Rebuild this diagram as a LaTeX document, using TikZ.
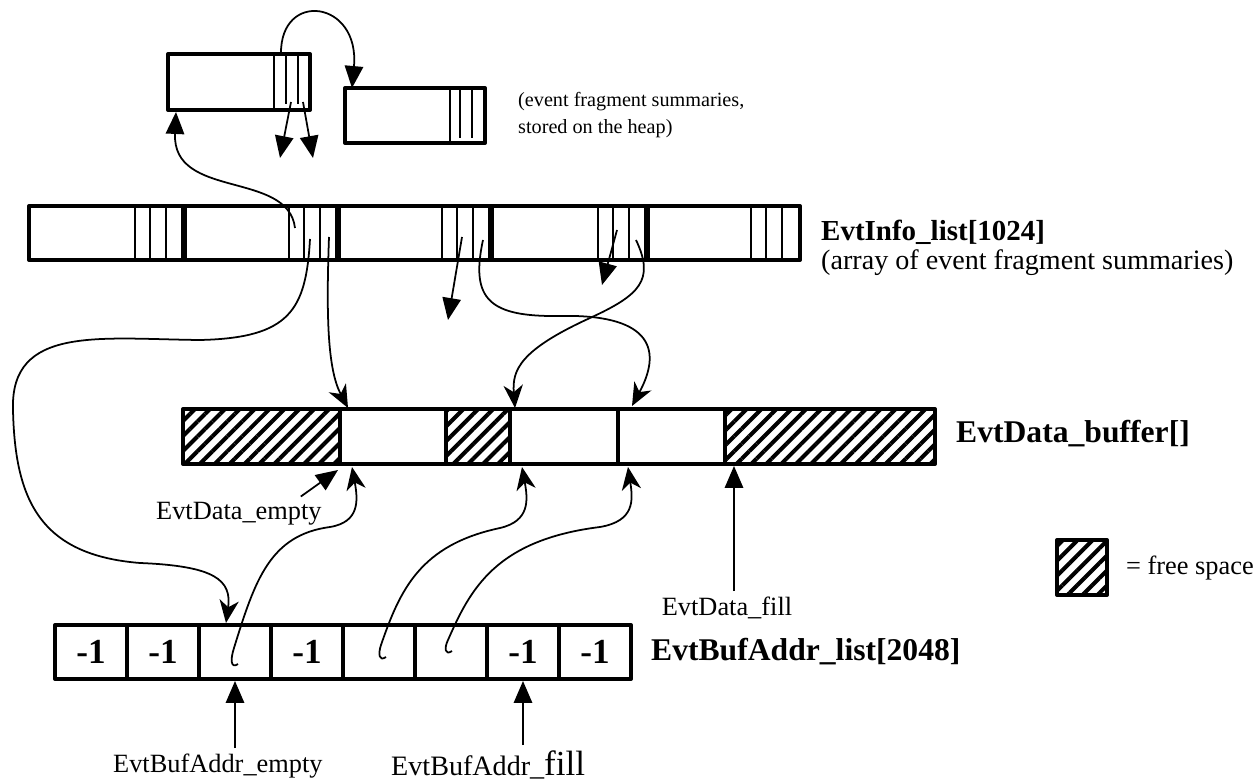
\documentclass[tikz,border=0pt]{standalone}
\usepackage{fontspec}
\setmainfont{Liberation Serif}
\usetikzlibrary{arrows.meta,patterns.meta}
\tikzset{
  box/.style={line width=2.3pt},
  slot/.style={line width=1pt},
  link/.style={line width=1pt,-{Stealth[length=13pt,width=11pt,inset=4pt]}},
  jump/.style={line width=1pt,-{Triangle[length=12.5pt,width=10.5pt]}},
  free/.style={box,pattern={Lines[angle=45,distance=6pt,line width=2.3pt]}},
  cell/.style={draw,line width=2.3pt,minimum width=1.44cm,minimum height=1.08cm,inner sep=0pt,font=\fontsize{20}{22}\selectfont\bfseries},
  title/.style={anchor=base west,font=\fontsize{18}{20}\selectfont\bfseries},
  note/.style={anchor=base west,font=\fontsize{15}{17}\selectfont}
}
\begin{document}
\begin{tikzpicture}[x=0.02cm,y=-0.02cm,line join=round]
\useasboundingbox (0,0) rectangle (1259,783);

\draw[box] (168,54) rectangle (310,110);
\draw[slot] (274,54) -- (274,110);
\foreach \x in {286,298} \draw[slot] (\x,54) -- (\x,104);
\draw[box] (345,88) rectangle (485,143);
\draw[slot] (450,88) -- (450,143);
\foreach \x in {460,472} \draw[slot] (\x,88) -- (\x,138);
\node[anchor=base west,font=\fontsize{11.5}{13}\selectfont] (heapa) at (512,107) {(event fragment summaries,};
\node[anchor=base west,font=\fontsize{11.5}{13}\selectfont] (heapb) at (512,134) {stored on the heap)};

\draw[box] (29,206) rectangle (800,260);
\foreach \x in {184,338,491,647} \draw[line width=3pt] (\x,206) -- (\x,260);
\foreach \x in {184,338,491,647,800}
  \foreach \d in {49,34,18} \draw[slot] ({\x-\d},206) -- ({\x-\d},260);
\node[title,font=\fontsize{16.5}{18}\selectfont\bfseries] (info) at (815,241) {EvtInfo\_list[1024]};
\node[note,font=\fontsize{16}{18}\selectfont] (infonote) at (815,270) {(array of event fragment summaries)};

\draw[free] (183,409) rectangle (340,464);
\draw[box] (340,409) rectangle (446,464);
\draw[free] (446,409) rectangle (510,464);
\draw[box] (510,409) rectangle (618,464);
\draw[box] (618,409) rectangle (725,464);
\draw[free] (725,409) rectangle (935,464);
\node[title] (data) at (950,443) {EvtData\_buffer[]};

\draw[free] (1057,540) rectangle (1107,595);
\node[note] (legend) at (1120,575) {= free space};

\foreach \i/\v in {1/{-1},2/{-1},3/{},4/{-1},5/{},6/{},7/{-1},8/{-1}}
  \node[cell] (c\i) at ({55+72*(\i-0.5)},652) {\v};
\node[title] (addr) at (645,661) {EvtBufAddr\_list[2048]};

\node[note] (dempty) at (150,520) {EvtData\_empty};
\node[note,anchor=base] (dfill) at (727,616) {EvtData\_fill};
\node[note] (bempty) at (107,773) {EvtBufAddr\_empty};
\node[anchor=base west] (bfill) at (385,776) {\fontsize{16}{18}\selectfont EvtBufAddr\_\fontsize{20}{22}\selectfont fill};

\coordinate (heapout) at (281,54);
\coordinate (heapin) at (352,88);
\coordinate (heapback) at (176,112);
\coordinate (bufA) at (348,408);
\coordinate (bufB) at (515,408);
\coordinate (bufC) at (632,406);
\coordinate (upA) at (352,467);
\coordinate (upB) at (522,467);
\coordinate (upC) at (628,467);
\coordinate (emptyat) at (338,470);
\coordinate (fillat) at (734,466);

\draw[jump] (heapout) .. controls (280,-10) and (360,0) .. (heapin);
\draw[jump] (291,102) -- (280,158);
\draw[jump] (303,102) -- (313,158);
\draw[jump] (295,228) .. controls (288,170) and (172,200) .. (heapback);
\draw[link] (310,239) .. controls (306,310) and (290,338) .. (200,340)
  .. controls (100,339) and (10,325) .. (13,410)
  .. controls (15,500) and (40,555) .. (140,563)
  .. controls (215,566) and (232,580) .. (c3.north -| 226,0);
\draw[link] (329,237) .. controls (326,320) and (328,370) .. (bufA);
\draw[jump] (462,237) -- (448,320);
\draw[link] (483,240) .. controls (470,300) and (490,317) .. (560,316)
  .. controls (645,314) and (665,345) .. (bufC);
\draw[jump] (617,230) -- (602,285);
\draw[link] (636,240) .. controls (655,280) and (640,295) .. (590,318)
  .. controls (520,350) and (512,370) .. (bufB);

\draw[link] (238,664) .. controls (231,669) and (230,660) .. (234,648)
  .. controls (255,580) and (270,535) .. (330,527)
  .. controls (360,522) and (358,500) .. (upA);
\draw[link] (386,657) .. controls (379,662) and (378,654) .. (381,645)
  .. controls (400,590) and (420,545) .. (500,528)
  .. controls (530,521) and (528,500) .. (upB);
\draw[link] (452,651) .. controls (445,656) and (444,648) .. (448,640)
  .. controls (470,590) and (495,540) .. (600,527)
  .. controls (635,521) and (633,500) .. (upC);

\draw[jump] (dempty.north east) ++(-27,0) -- (emptyat);
\draw[jump] (dfill.north -| fillat) -- (fillat);
\draw[jump] (bempty.north -| c3.south) -- (c3.south);
\draw[jump] (bfill.north -| c7.south) -- (c7.south);
\end{tikzpicture}
\end{document}
